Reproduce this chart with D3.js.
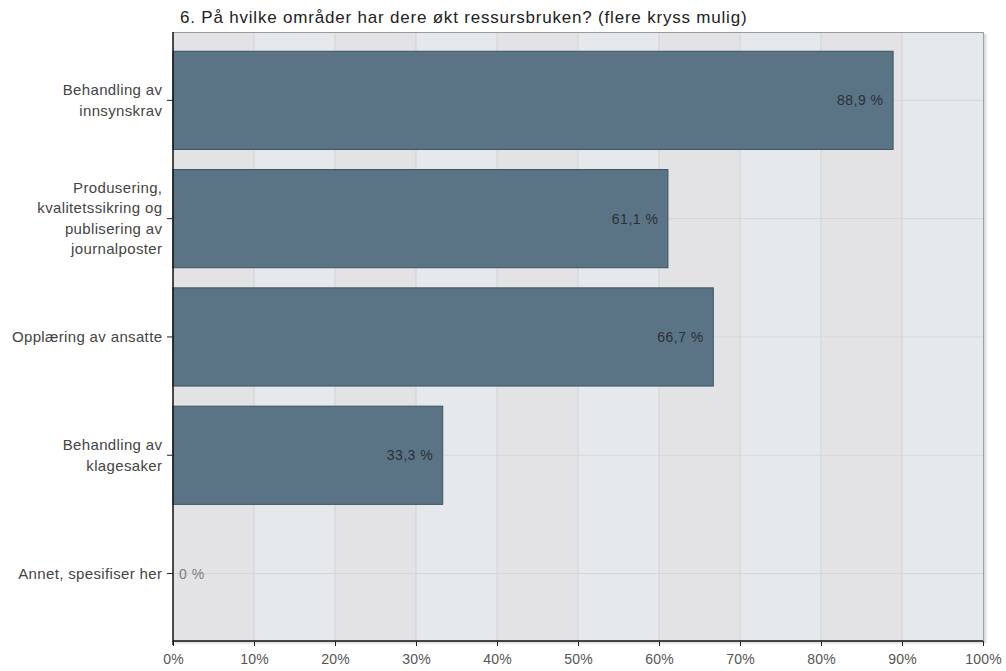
<!DOCTYPE html>
<html><head><meta charset="utf-8">
<script src="https://cdn.jsdelivr.net/npm/d3@7"></script>
<style>body{margin:0;background:#fff;font-family:"Liberation Sans",Arial,Helvetica,sans-serif;}</style>
</head><body>
<svg id="c" width="1006" height="671"></svg>
<script>
const title = "6. På hvilke områder har dere økt ressursbruken? (flere kryss mulig)";
const categories = [
  ["Behandling av","innsynskrav"],
  ["Produsering,","kvalitetssikring og","publisering av","journalposter"],
  ["Opplæring av ansatte"],
  ["Behandling av","klagesaker"],
  ["Annet, spesifiser her"]
];
const values = [88.9, 61.1, 66.7, 33.3, 0];
const valueLabels = ["88,9 %","61,1 %","66,7 %","33,3 %","0 %"];
const xTicks = [0,10,20,30,40,50,60,70,80,90,100];

const svg = d3.select("#c");
const L=173, R=983, T=32, B=641;
const x = d3.scaleLinear().domain([0,100]).range([L,R]);
const keys = categories.map((c,i)=>i);
const y = d3.scaleBand().domain(keys).range([41.2,632.7]).paddingInner(0.17).paddingOuter(0.085);

const defs = svg.append("defs");
const g = defs.append("linearGradient").attr("id","sep");
g.append("stop").attr("offset","0%").attr("stop-color","#fff");
g.append("stop").attr("offset","50%").attr("stop-color","#8a8a8a");
g.append("stop").attr("offset","100%").attr("stop-color","#fff");
const sh = defs.append("linearGradient").attr("id","shR");
sh.append("stop").attr("offset","0%").attr("stop-color","#c8c8c8");
sh.append("stop").attr("offset","100%").attr("stop-color","#fff");
const shb = defs.append("linearGradient").attr("id","shB").attr("x1",0).attr("y1",0).attr("x2",0).attr("y2",1);
shb.append("stop").attr("offset","0%").attr("stop-color","#cfcfcf");
shb.append("stop").attr("offset","100%").attr("stop-color","#fff");

// shadows
svg.append("rect").attr("x",R).attr("y",T+2).attr("width",5).attr("height",B-T).attr("fill","url(#shR)");
svg.append("rect").attr("x",L+2).attr("y",B).attr("width",R-L).attr("height",4).attr("fill","url(#shB)");

// background columns
svg.append("g").selectAll("rect").data(xTicks.slice(0,-1)).join("rect")
  .attr("x",d=>x(d)).attr("y",T).attr("width",d=>x(d+10)-x(d)).attr("height",B-T)
  .attr("fill",(d,i)=>i%2===0?"#e3e3e5":"#e6e9ec");

// vertical grid
svg.append("g").selectAll("line").data(xTicks.slice(1,-1)).join("line")
  .attr("x1",d=>x(d)).attr("x2",d=>x(d)).attr("y1",T).attr("y2",B)
  .attr("stroke","#d2d2d4").attr("stroke-width",1);
// horizontal grid
svg.append("g").selectAll("line").data(keys).join("line")
  .attr("x1",L).attr("x2",R).attr("y1",d=>y(d)+y.bandwidth()/2).attr("y2",d=>y(d)+y.bandwidth()/2)
  .attr("stroke","#d6d6d8").attr("stroke-width",1);

// border top/right
svg.append("line").attr("x1",L).attr("x2",R).attr("y1",T+0.5).attr("y2",T+0.5).attr("stroke","#9a9a9a");
svg.append("line").attr("x1",R+0.5).attr("x2",R+0.5).attr("y1",T).attr("y2",B).attr("stroke","#a0a0a0");

// bars
svg.append("g").selectAll("rect").data(keys.filter(i=>values[i]>0)).join("rect")
  .attr("x",L).attr("y",d=>y(d)).attr("width",d=>x(values[d])-L).attr("height",y.bandwidth())
  .attr("fill","#5a7486").attr("stroke","#3c5262").attr("stroke-width",1);

// value labels
const vls = 0.5;
svg.append("g").selectAll("text").data(keys).join("text")
  .attr("x",d=>values[d]>0? x(values[d])-10+vls : x(0)+6)
  .attr("y",d=>y(d)+y.bandwidth()/2+5)
  .attr("text-anchor",d=>values[d]>0?"end":"start")
  .attr("font-size",14).attr("letter-spacing",vls).attr("fill",d=>values[d]>0?"#2a3036":"#7a7f85")
  .text(d=>valueLabels[d]);

// axes
const xAxis = d3.axisBottom(x).tickValues(xTicks).tickFormat(d=>d+"%").tickSize(5).tickPadding(8);
const ax = svg.append("g").attr("transform",`translate(0,${B})`).call(xAxis);
ax.select(".domain").attr("stroke","#111").attr("stroke-width",1.5).attr("d",`M${L},0H${R}`);
ax.selectAll(".tick line").attr("stroke","#222");
ax.selectAll("text").attr("font-size",14).attr("letter-spacing",0.2).attr("fill","#555").attr("font-family","Liberation Sans, Arial, sans-serif");

const yAxis = d3.axisLeft(y).tickSize(6).tickFormat("");
const ay = svg.append("g").attr("transform",`translate(${L},0)`).call(yAxis);
ay.select(".domain").attr("stroke","#111").attr("stroke-width",1.5).attr("d",`M0,${T}V${B+4}`);
ay.selectAll(".tick line").attr("stroke","#222");

// category labels
const lh = 20.5, cls = 0.35;
svg.append("g").selectAll("text").data(keys).join("text")
  .attr("text-anchor","end").attr("font-size",15).attr("letter-spacing",cls).attr("fill","#444")
  .each(function(d){
    const lines = categories[d];
    const cy = y(d)+y.bandwidth()/2;
    const t = d3.select(this);
    lines.forEach((ln,j)=>{
      t.append("tspan").attr("x",162+cls).attr("y",cy+(j-(lines.length-1)/2)*lh+5).text(ln);
    });
  });

// separators
svg.append("g").selectAll("line").data(keys.slice(1)).join("line")
  .attr("x1",8).attr("x2",166)
  .attr("y1",d=>y(d)-y.step()*y.paddingInner()/2).attr("y2",d=>y(d)-y.step()*y.paddingInner()/2)
  .attr("stroke","url(#sep)").attr("stroke-width",1.2);

// title
svg.append("text").attr("x",180).attr("y",23).attr("font-size",17).attr("letter-spacing",0.8).attr("fill","#222").text(title);
</script>
</body></html>
